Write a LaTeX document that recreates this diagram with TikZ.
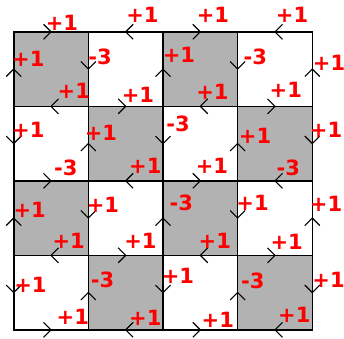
\documentclass[tikz,border=0pt]{standalone}
\usepackage{fontspec}
\newfontfamily\lblfont{DejaVu Sans}
\definecolor{cellgray}{rgb}{0.7,0.7,0.7}
\tikzset{
  chv/.style={line width=1.1pt},
  gridline/.style={line width=1.6pt},
  lab/.style={text=red, font=\lblfont\bfseries\fontsize{21}{25}\selectfont, inner sep=0pt},
  chR/.pic={\draw[chv] (-7.5,-7.5) -- (0,0) -- (-7.5,7.5);},
  chL/.pic={\draw[chv] (7.5,-7.5) -- (0,0) -- (7.5,7.5);},
  chU/.pic={\draw[chv] (-7.5,7.5) -- (0,0) -- (7.5,7.5);},
  chD/.pic={\draw[chv] (-7.5,-7.5) -- (0,0) -- (7.5,-7.5);}
}
\begin{document}
\begin{tikzpicture}[x=1pt,y=-1pt]
\useasboundingbox (0,0) rectangle (344,338);
\foreach \i in {0,...,4} \foreach \j in {0,...,4}
  \coordinate (p\i\j) at ({13.7+74.65*\i},{31.8+74.5*\j});
% shaded cells
\foreach \i/\j in {0/0,2/0,1/1,3/1,0/2,2/2,1/3,3/3}
  \fill[cellgray] (p\i\j) rectangle ++(74.65,74.5);
% grid
\foreach \k in {1,2,3} {
  \draw[gridline] (p\k0) -- (p\k4);
  \draw[gridline] (p0\k) -- (p4\k);
}
\draw[gridline] (p00) rectangle (p44);
% chevrons on horizontal edges
\foreach \j in {0,...,4} \foreach \i in {0,...,3} {
  \pgfmathtruncatemacro\r{mod(\i+\j,2)}
  \ifnum\r=0
    \pic at ({13.7+74.65*(\i+0.5)},{31.8+74.5*\j}) {chR};
  \else
    \pic at ({13.7+74.65*(\i+0.5)},{31.8+74.5*\j}) {chL};
  \fi
}
% chevrons on vertical edges
\foreach \i in {0,...,4} \foreach \j in {0,...,3} {
  \pgfmathtruncatemacro\r{mod(\i+\j,2)}
  \ifnum\r=0
    \pic at ({13.7+74.65*\i},{31.8+74.5*(\j+0.5)}) {chU};
  \else
    \pic at ({13.7+74.65*\i},{31.8+74.5*(\j+0.5)}) {chD};
  \fi
}
% labels
\foreach \x/\y/\t [count=\n] in {
  62/22.5/+1, 142.5/14.7/+1, 213/15.3/+1, 292/14.7/+1,
  28.3/59/+1, 100/56.7/-3, 179/55/+1, 255.3/56.7/-3, 329/63/+1,
  73.8/91/+1, 138/95/+1, 212.5/91.7/+1, 285.8/90/+1,
  28.3/129.5/+1, 101/133/+1, 178/124/-3, 255/136/+1, 326/129.5/+1,
  65.8/168/-3, 145.3/165.7/+1, 212/165.7/+1, 288.3/167.5/-3,
  29.7/210/+1, 103/205.3/+1, 181.3/203/-3, 252.5/203/+1, 326/204/+1,
  68.7/241/+1, 140.5/241.3/+1, 214.8/240.8/+1, 286.7/242.3/+1,
  30.5/284.7/+1, 102.5/279.5/-3, 178/276/+1, 252.8/280.8/-3, 328.5/280/+1,
  72.8/317/+1, 145.3/318/+1, 217.8/319.5/+1, 294.3/314.7/+1}
  \node[lab] (lab\n) at (\x,\y) {\t};
\end{tikzpicture}
\end{document}
